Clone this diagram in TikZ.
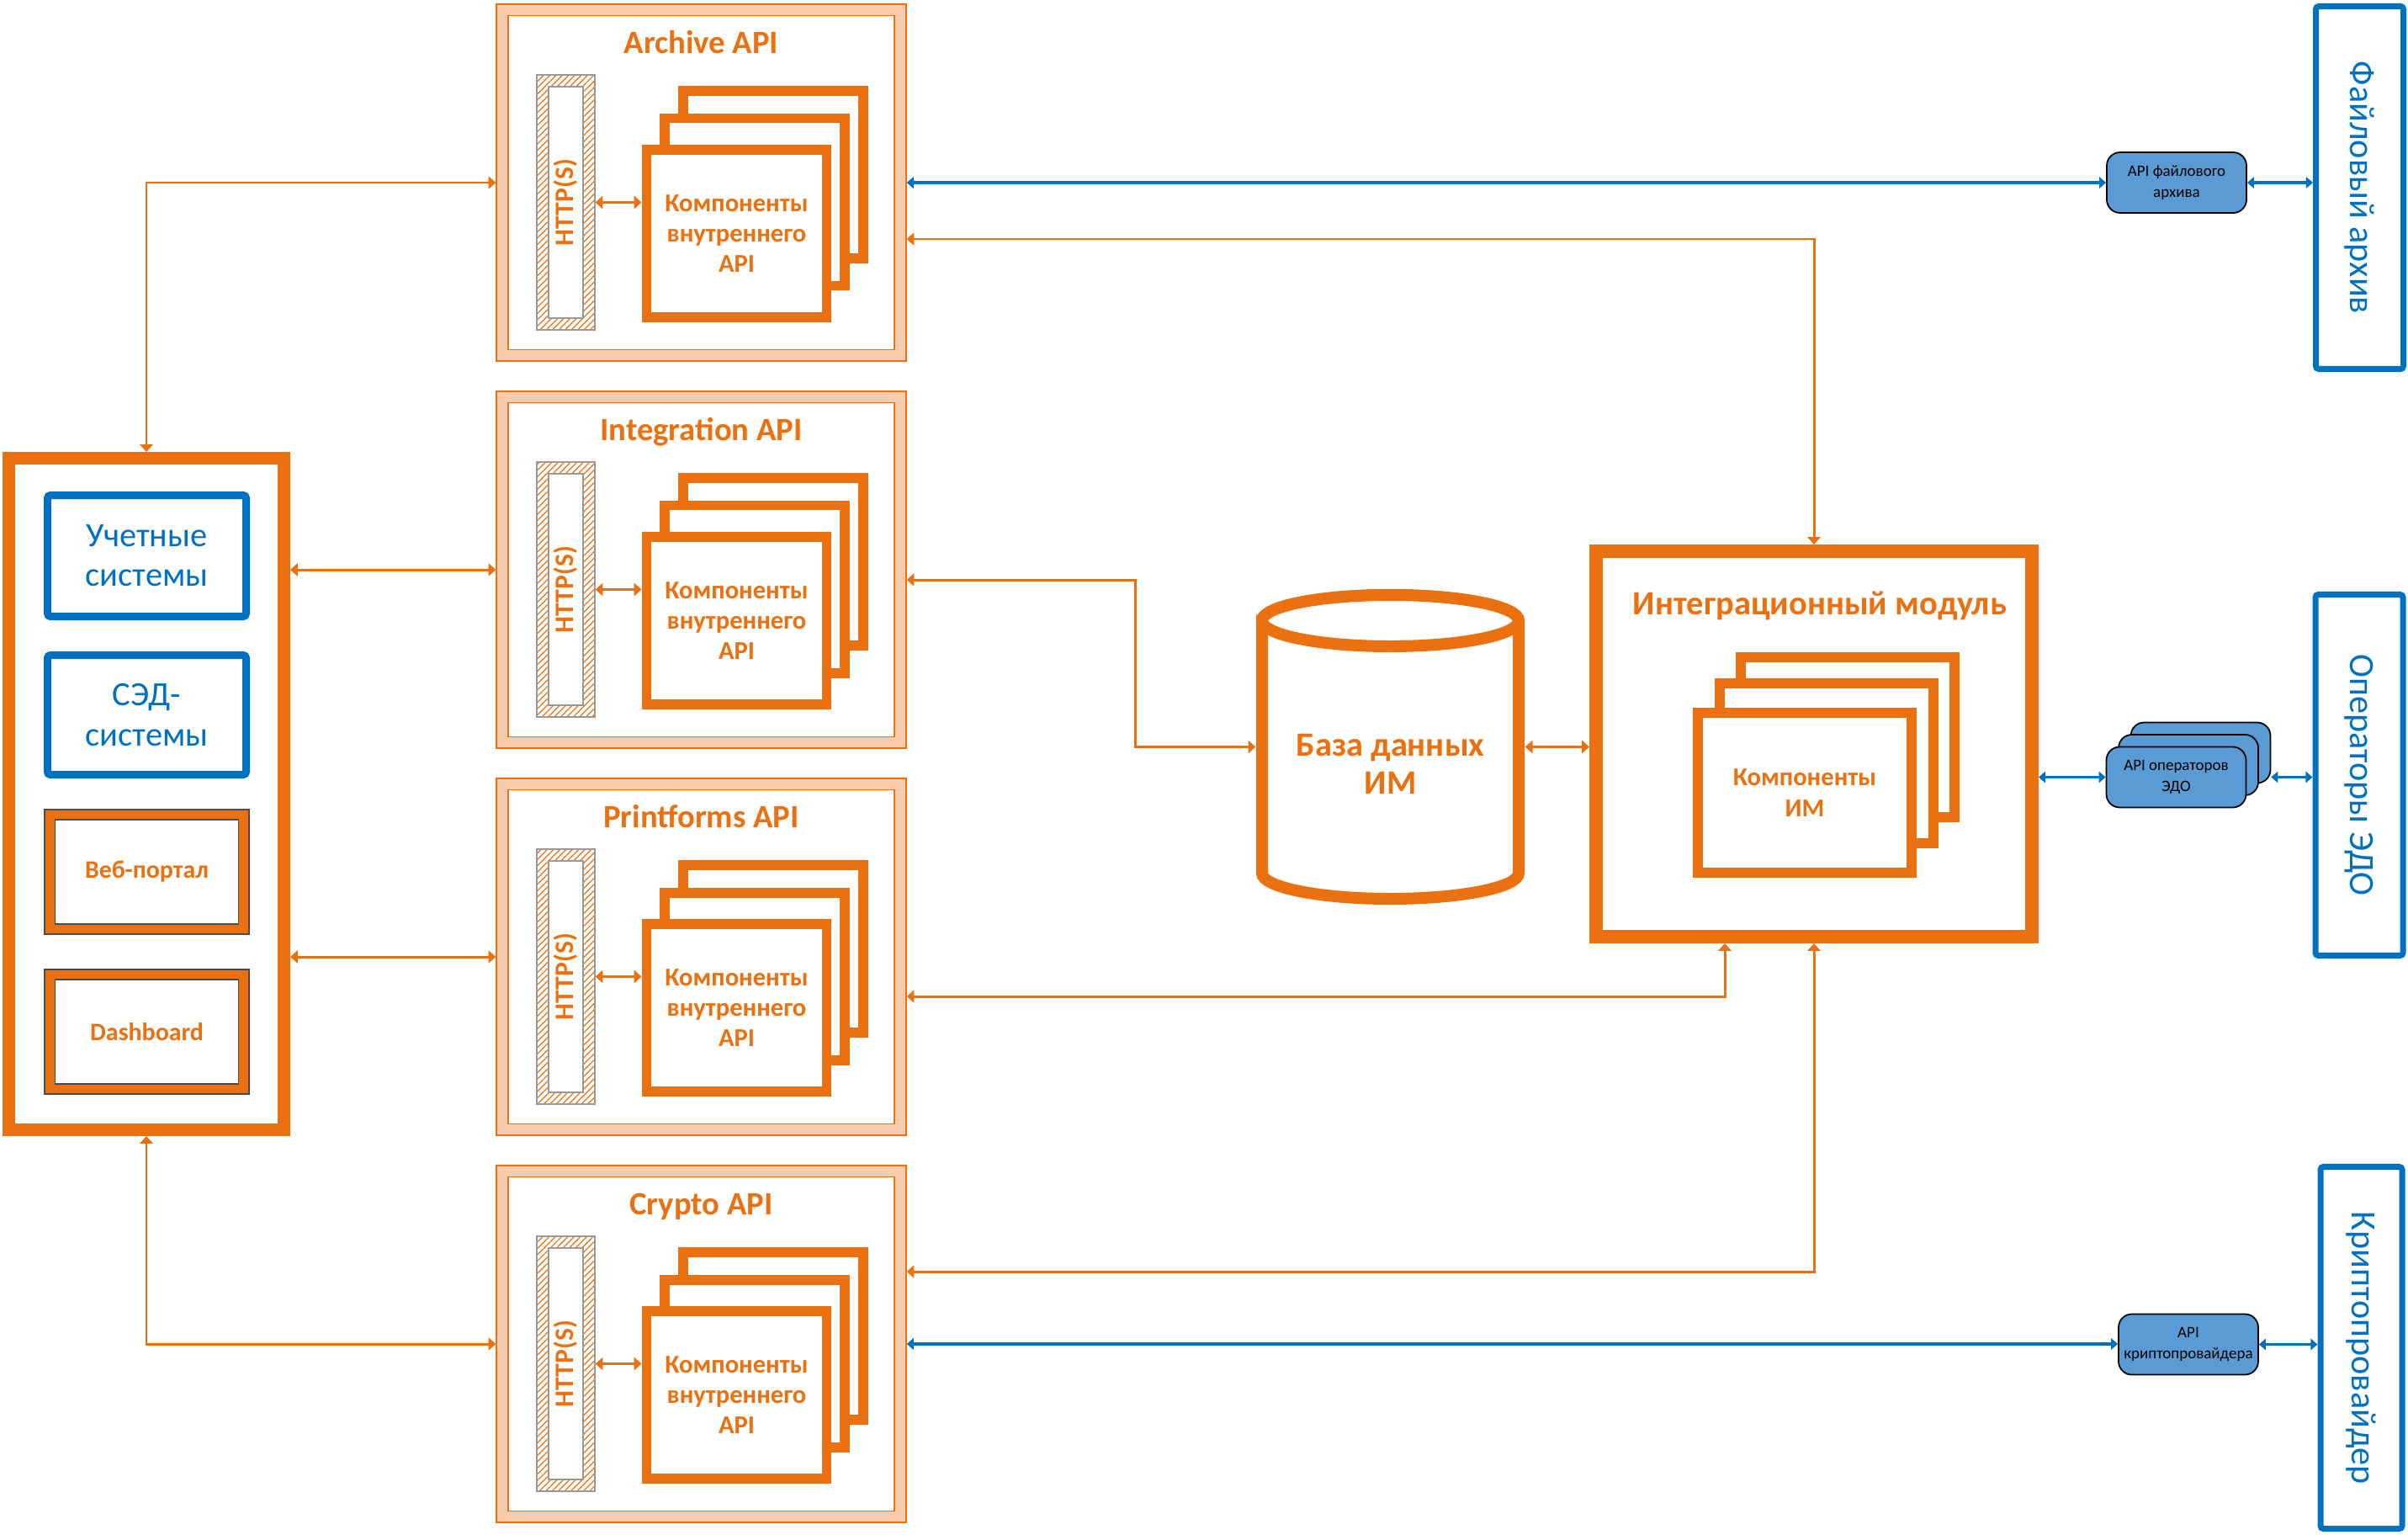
\documentclass[tikz,border=0pt]{standalone}
\usepackage{fontspec}
\setmainfont{Carlito}
\usetikzlibrary{arrows.meta}
\usetikzlibrary{positioning}
\usetikzlibrary{patterns.meta}
\usetikzlibrary{calc}

\definecolor{imorange}{RGB}{235,112,16}
\definecolor{impeach}{RGB}{248,203,173}
\definecolor{imblue}{RGB}{0,112,192}
\definecolor{imlightblue}{RGB}{91,155,213}

\begin{document}
\begin{tikzpicture}[
  frame/.style={rectangle, inner sep=0pt},
  apibox/.style={frame, fill=impeach, draw=imorange, line width=0.4pt, minimum width=4.87cm, minimum height=4.24cm},
  apiinner/.style={frame, fill=white, draw=imorange, line width=0.4pt, minimum width=4.59cm, minimum height=3.97cm},
  apititle/.style={anchor=base, font=\fontsize{11}{13}\selectfont\bfseries, text=imorange},
  httpbox/.style={frame, draw=gray!80, line width=0.4pt, pattern={Lines[angle=45,distance=1.5pt,line width=0.35pt]}, pattern color=imorange, minimum width=0.69cm, minimum height=3.03cm},
  httpinner/.style={frame, fill=white, draw=gray!80, line width=0.4pt, minimum width=0.41cm, minimum height=2.75cm},
  httptext/.style={rotate=90, font=\fontsize{9}{10}\selectfont\bfseries, text=imorange},
  comp/.style={frame, fill=white, draw=imorange, line width=3.41pt, minimum width=2.14cm, minimum height=1.99cm, align=center, font=\fontsize{8.7}{10.3}\selectfont\bfseries, text=imorange},
  imcomp/.style={comp, minimum width=2.54cm, minimum height=1.90cm},
  link/.style={draw=imorange, line width=0.85pt, >={Triangle[width=4.3pt,length=2.5pt]}, <->},
  bluelink/.style={draw=imblue, line width=1.1pt, >={Triangle[width=3.8pt,length=2.3pt]}, <->},
  sysbox/.style={frame, fill=white, draw=imblue, line width=2.56pt, rounded corners=1pt, minimum width=2.36cm, minimum height=1.44cm, align=center, font=\fontsize{11.5}{13.4}\selectfont, text=imblue},
  appbox/.style={frame, fill=imorange, draw=black!70, line width=0.3pt, minimum width=2.43cm, minimum height=1.48cm},
  appinner/.style={frame, fill=white, draw=black!70, line width=0.3pt, minimum width=2.18cm, minimum height=1.24cm, font=\fontsize{8.5}{10}\selectfont\bfseries, text=imorange},
  extbox/.style={frame, draw=imblue, line width=2pt, rounded corners=1pt, minimum width=1.04cm, minimum height=4.31cm},
  exttext/.style={rotate=-90, font=\fontsize{12}{14}\selectfont, text=imblue},
  gate/.style={frame, fill=imlightblue, draw=black, line width=0.5pt, rounded corners=4.5pt, minimum width=1.66cm, minimum height=0.72cm, align=center, font=\fontsize{5.4}{7}\selectfont},
  dbline/.style={draw=imorange, line width=3.98pt, fill=white}
]
\useasboundingbox (0,0) rectangle (28.62,-18.24);

% client systems
\node[frame, draw=imorange, fill=white, line width=4.27pt, minimum width=3.27cm, minimum height=7.98cm] (clients) at (1.74,-9.435) {};
\node[sysbox] (accounting) at (1.745,-6.605) {Учетные\\системы};
\node[sysbox, minimum height=1.42cm] (sed) at (1.745,-8.495) {СЭД-\\системы};
\node[appbox] (portal) at (1.745,-10.36) {};
\node[appinner] (portal-in) at (portal.center) {Веб-портал};
\node[appbox] (dashboard) at (1.745,-12.26) {};
\node[appinner] (dashboard-in) at (dashboard.center) {Dashboard};

% API services
\foreach \api/\ttl/\row in {archive/Archive API/0, intapi/Integration API/1, printapi/Printforms API/2, cryptoapi/Crypto API/3} {
  \pgfmathsetmacro{\yc}{-2.17-4.6*\row}
  \node[apibox] (\api) at (8.335,\yc) {};
  \node[apiinner] (\api-in) at (\api.center) {};
  \node[apititle] (\api-title) at ($(\api.center)+(0,1.54)$) {\ttl};
  \node[httpbox] (\api-http) at ($(\api.center)+(-1.61,-0.235)$) {};
  \node[httpinner] (\api-httpin) at (\api-http.center) {};
  \node[httptext] (\api-httptext) at (\api-http.center) {HTTP(S)};
  \node[comp] (\api-c3) at ($(\api.center)+(0.855,0.095)$) {};
  \node[comp] (\api-c2) at ($(\api.center)+(0.635,-0.23)$) {};
  \node[comp] (\api-c1) at ($(\api.center)+(0.42,-0.605)$) {Компоненты\\внутреннего\\API};
  \draw[link] (\api-http.east) -- (\api-http.east -| \api-c1.west);
}

% database
\node[frame, minimum width=3.19cm, minimum height=3.75cm] (db) at (16.525,-8.875) {};
\filldraw[dbline] (15,-7.375) -- (15,-10.375) arc[start angle=180, end angle=360, x radius=1.525, y radius=0.305] -- (18.05,-7.375) arc[start angle=0, end angle=180, x radius=1.525, y radius=0.305] -- cycle;
\draw[dbline] (16.525,-7.375) ellipse[x radius=1.525, y radius=0.305];
\node[align=center, font=\fontsize{11.5}{12.8}\selectfont\bfseries, text=imorange] (db-label) at (16.525,-9.08) {База данных\\ИМ};

% integration module
\node[frame, fill=white, draw=imorange, line width=4.55pt, minimum width=5.18cm, minimum height=4.58cm] (im) at (21.56,-8.84) {};
\node[apititle, font=\fontsize{11.5}{13}\selectfont\bfseries] (im-title) at (21.63,-7.30) {Интеграционный модуль};
\node[imcomp] (im-c3) at (21.96,-8.755) {};
\node[imcomp] (im-c2) at (21.705,-9.07) {};
\node[imcomp] (im-c1) at (21.45,-9.42) {Компоненты\\ИМ};

% external systems
\node[extbox] (filearch) at (28.045,-2.23) {};
\node[exttext] (filearch-text) at (filearch.center) {Файловый архив};
\node[extbox, minimum height=4.29cm] (edo) at (28.04,-9.21) {};
\node[exttext] (edo-text) at (edo.center) {Операторы ЭДО};
\node[extbox, minimum width=0.97cm, minimum height=4.30cm] (cryptoprov) at (28.065,-16.015) {};
\node[exttext] (cryptoprov-text) at (cryptoprov.center) {Криптопровайдер};

\node[gate] (apifile) at (25.87,-2.17) {API файлового\\архива};
\node[gate] (apiedo3) at (26.155,-8.945) {};
\node[gate] (apiedo2) at (26.01,-9.09) {};
\node[gate] (apiedo) at (25.865,-9.235) {API операторов\\ЭДО};
\node[gate] (apicrypto) at (26.01,-15.975) {API\\криптопровайдера};

% connectors
\draw[link] (clients.north) |- (archive.west);
\draw[link] (clients.east |- intapi.west) -- (intapi.west);
\draw[link] (clients.east |- printapi.west) -- (printapi.west);
\draw[link] (clients.south) |- (cryptoapi.west);

\draw[link] ([yshift=-0.67cm]archive.east) -| (im.north);
\draw[link] ([yshift=-0.12cm]intapi.east) -- ++(2.72,0) |- (db.west);
\draw[link] (db.east) -- (db.east -| im.west);
\draw[link] ([yshift=-0.47cm]printapi.east) -| ([xshift=-1.06cm]im.south);
\draw[link] ([yshift=0.86cm]cryptoapi.east) -| (im.south);

\draw[bluelink] (archive.east) -- (archive.east -| apifile.west);
\draw[bluelink] (apifile.east) -- (apifile.east -| filearch.west);
\draw[bluelink] (apiedo.west -| im.east) -- (apiedo.west);
\draw[bluelink] (apiedo.west -| apiedo3.east) -- (apiedo.west -| edo.west);
\draw[bluelink] (cryptoapi.east) -- (cryptoapi.east -| apicrypto.west);
\draw[bluelink] (apicrypto.east) -- (apicrypto.east -| cryptoprov.west);

\end{tikzpicture}
\end{document}
